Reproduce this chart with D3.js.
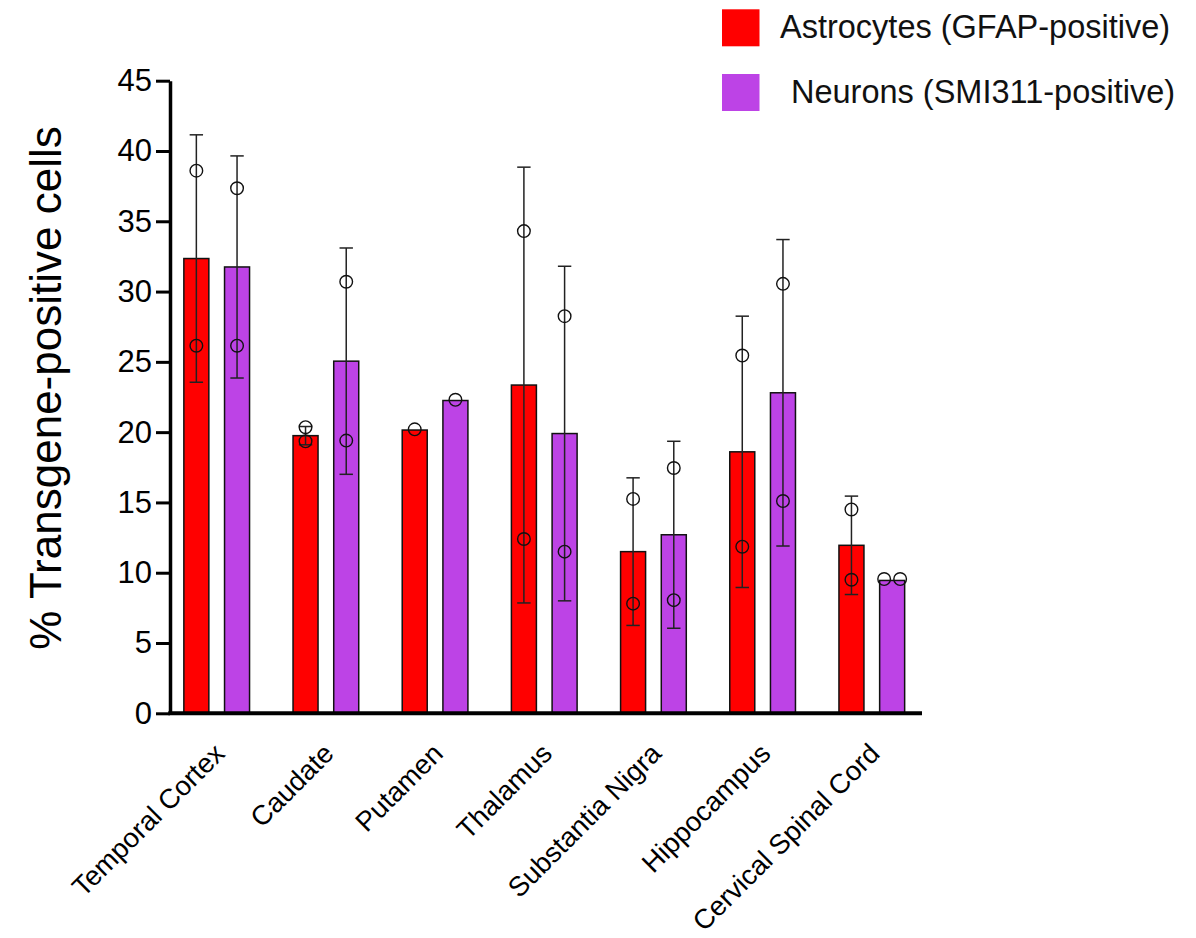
<!DOCTYPE html>
<html>
<head>
<meta charset="utf-8">
<script src="https://cdn.jsdelivr.net/npm/d3@7"></script>
<style>
  html, body { margin: 0; padding: 0; background: #fff; }
  svg { display: block; font-family: "Liberation Sans", Arial, sans-serif; }
</style>
</head>
<body>
<svg id="chart" width="1196" height="938"></svg>
<script>
// ---- data ----
const categories = ["Temporal Cortex", "Caudate", "Putamen", "Thalamus", "Substantia Nigra", "Hippocampus", "Cervical Spinal Cord"];
const seriesNames = ["Astrocytes (GFAP-positive)", "Neurons (SMI311-positive)"];
const seriesColors = ["#ff0000", "#bd43e6"];

const astroMean = [32.35, 19.75, 20.15, 23.35, 11.5, 18.6, 11.95];
const astroSD = [8.8, 0.65, 0, 15.5, 5.25, 9.65, 3.5];
const astroPoints = [[38.6, 26.15], [20.35, 19.35], [20.2], [34.3, 12.4], [15.25, 7.8], [25.45, 11.85], [14.5, 9.5]];

const neuroMean = [31.75, 25.05, 22.25, 19.9, 12.7, 22.8, 9.45];
const neuroSD = [7.9, 8.05, 0, 11.9, 6.65, 10.9, 0];
const neuroPoints = [[37.35, 26.15], [30.7, 19.4], [22.3], [28.25, 11.5], [17.45, 8.05], [30.55, 15.1], [9.55, 9.55]];

const yTicks = [0, 5, 10, 15, 20, 25, 30, 35, 40, 45];
const yLabel = "% Transgene-positive cells";

// ---- build rows ----
const means = [astroMean, neuroMean];
const sds = [astroSD, neuroSD];
const pts = [astroPoints, neuroPoints];
const rows = [];
categories.forEach((c, i) => {
  seriesNames.forEach((s, j) => {
    rows.push({ cat: c, series: s, si: j, mean: means[j][i], sd: sds[j][i], points: pts[j][i] });
  });
});

// ---- layout ----
const svg = d3.select("#chart");
const axisX = 170, axisEnd = 922, y0 = 713.3, yTop = 80.7;

const x = d3.scalePoint().domain(categories).range([216.7, 871.8]);
const xs = d3.scaleBand().domain(seriesNames).range([-33.35, 33.35]).paddingInner(0.361);
const y = d3.scaleLinear().domain([0, 45]).range([y0, yTop]);
const color = d3.scaleOrdinal().domain(seriesNames).range(seriesColors);
const barW = xs.bandwidth() - 1;
const barCenter = d => x(d.cat) + xs(d.series) + xs.bandwidth() / 2;

// bars
svg.append("g").selectAll("rect").data(rows).join("rect")
  .attr("x", d => barCenter(d) - barW / 2)
  .attr("y", d => y(d.mean))
  .attr("width", barW)
  .attr("height", d => y(0) - y(d.mean))
  .attr("fill", d => color(d.series))
  .attr("stroke", "#111")
  .attr("stroke-width", 1.5);

// error bars
const eb = svg.append("g").attr("stroke", "#222").attr("stroke-width", 1.5).attr("fill", "none");
rows.filter(d => d.sd > 0).forEach(d => {
  const cx = barCenter(d);
  const hi = y(d.mean + d.sd), lo = y(d.mean - d.sd);
  eb.append("line").attr("x1", cx).attr("x2", cx).attr("y1", hi).attr("y2", lo);
  eb.append("line").attr("x1", cx - 6.7).attr("x2", cx + 6.7).attr("y1", hi).attr("y2", hi);
  eb.append("line").attr("x1", cx - 6.7).attr("x2", cx + 6.7).attr("y1", lo).attr("y2", lo);
});

// points (spread horizontally when they would overlap)
const pointData = [];
rows.forEach(d => {
  const ys = d.points.map(v => y(v));
  const overlap = ys.length === 2 && Math.abs(ys[0] - ys[1]) < 12;
  d.points.forEach((v, k) => {
    const off = overlap ? (k === 0 ? -8 : 8) : 0;
    pointData.push({ cx: barCenter(d) + off, v: v });
  });
});
svg.append("g").selectAll("circle").data(pointData).join("circle")
  .attr("cx", d => d.cx)
  .attr("cy", d => y(d.v))
  .attr("r", 6.3)
  .attr("fill", "none")
  .attr("stroke", "#111")
  .attr("stroke-width", 1.4);

// y axis
const yAxis = svg.append("g")
  .attr("transform", `translate(${axisX},0)`)
  .call(d3.axisLeft(y).tickValues(yTicks).tickFormat(d3.format("d")).tickSize(14).tickSizeOuter(0).tickPadding(4));
yAxis.select(".domain").attr("stroke", "#000").attr("stroke-width", 3.5);
yAxis.selectAll(".tick line").attr("stroke", "#000").attr("stroke-width", 3);
yAxis.selectAll(".tick text").attr("fill", "#000").attr("font-size", 31)
  .attr("font-family", "'Liberation Sans', Arial, sans-serif");

// x axis (baseline + rotated category labels)
svg.append("line")
  .attr("x1", axisX - 1.75).attr("x2", axisEnd)
  .attr("y1", y(0)).attr("y2", y(0))
  .attr("stroke", "#000").attr("stroke-width", 4);

const xAxis = svg.append("g")
  .attr("transform", `translate(0,${y(0)})`)
  .call(d3.axisBottom(x).tickSize(0).tickPadding(0));
xAxis.select(".domain").remove();
xAxis.selectAll(".tick text")
  .attr("font-size", 27.5)
  .attr("font-family", "'Liberation Sans', Arial, sans-serif")
  .attr("fill", "#000")
  .attr("text-anchor", "end")
  .attr("dy", null)
  .attr("y", null)
  .attr("transform", "translate(9,42) rotate(-45)");

// y label
svg.append("text")
  .attr("transform", `translate(61,${(121 + 655) / 2}) rotate(-90)`)
  .attr("text-anchor", "middle")
  .attr("font-size", 44)
  .attr("fill", "#000")
  .text(yLabel);

// legend
const legend = svg.append("g");
const legY = [9.3, 74];
const legTextX = [780, 791];
seriesNames.forEach((s, i) => {
  legend.append("rect")
    .attr("x", 722).attr("y", legY[i])
    .attr("width", 37.5).attr("height", 37)
    .attr("fill", color(s));
  legend.append("text")
    .attr("x", legTextX[i]).attr("y", legY[i] + 18.5 + 10.5)
    .attr("font-size", 32.5)
    .attr("fill", "#111")
    .text(s);
});
</script>
</body>
</html>
